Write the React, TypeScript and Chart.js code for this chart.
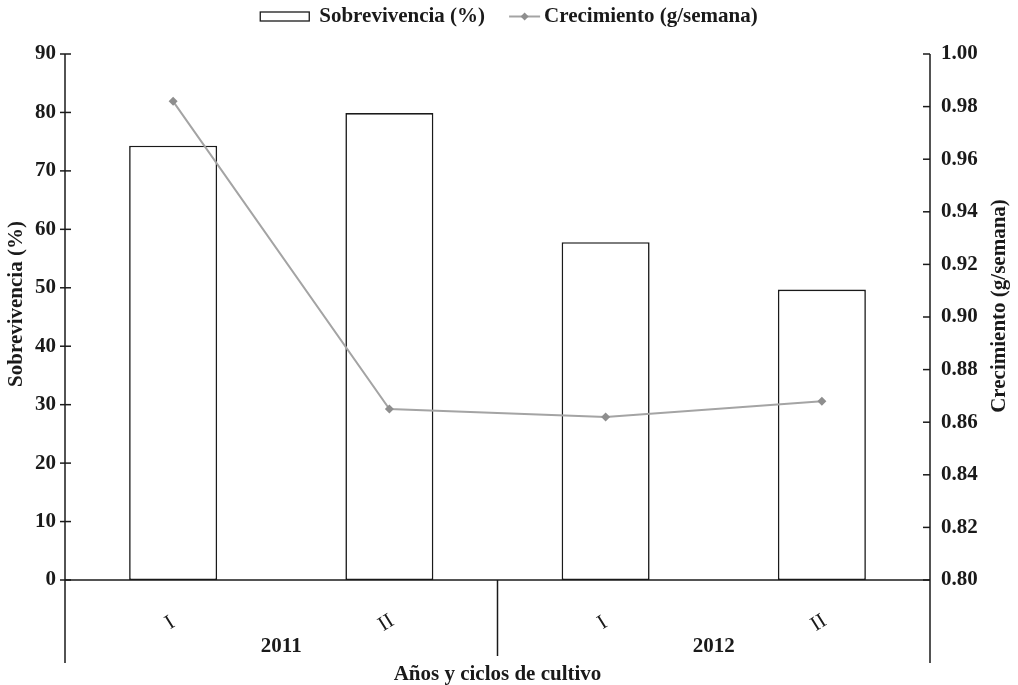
import React, { useEffect, useRef } from "react";
import { Chart, registerables } from "chart.js";

Chart.register(...registerables);

// ---- Data ----
const categories = ["I", "II", "I", "II"];
const years = ["2011", "2012"];
const yearGroups = [
  [0, 1],
  [2, 3],
];
const survival = [74.3, 79.9, 57.8, 49.7];
const growth = [0.982, 0.865, 0.862, 0.868];
const leftTicks = [0, 10, 20, 30, 40, 50, 60, 70, 80, 90];
const rightTicks = [0.8, 0.82, 0.84, 0.86, 0.88, 0.9, 0.92, 0.94, 0.96, 0.98, 1.0];
const seriesLabels = ["Sobrevivencia (%)", "Crecimiento (g/semana)"];
const leftTitle = "Sobrevivencia (%)";
const rightTitle = "Crecimiento (g/semana)";
const xTitle = "Años y ciclos de cultivo";

const FONT = "'Liberation Serif', 'Times New Roman', serif";
const FS = 21;
const INK = "#1a1a1a";
const LINE = "#a4a4a4";
const MARK = "#8e8e8e";

const decorPlugin = {
  id: "decor",
  afterDraw(chart: any) {
    const { ctx, chartArea, scales } = chart;
    const xs = scales.x;
    const yl = scales.y;
    const yr = scales.y1;
    const L = chartArea.left;
    const R = chartArea.right;
    const T = chartArea.top;
    const B = chartArea.bottom;
    const ext = B + 83;

    ctx.save();
    ctx.strokeStyle = INK;
    ctx.lineWidth = 1.5;
    const seg = (x1: number, y1: number, x2: number, y2: number) => {
      ctx.beginPath();
      ctx.moveTo(x1, y1);
      ctx.lineTo(x2, y2);
      ctx.stroke();
    };
    // axis lines
    seg(L, T, L, ext);
    seg(R, T, R, ext);
    seg(L, B, R, B);
    // left ticks
    leftTicks.forEach((v) => {
      const y = yl.getPixelForValue(v);
      seg(L - 5, y, L + 6, y);
    });
    // right ticks
    rightTicks.forEach((v) => {
      const y = yr.getPixelForValue(v);
      seg(R - 7, y, R, y);
    });
    // group separator(s)
    for (let g = 0; g < yearGroups.length - 1; g++) {
      const a = xs.getPixelForValue(yearGroups[g][1]);
      const b = xs.getPixelForValue(yearGroups[g + 1][0]);
      const sx = (a + b) / 2;
      seg(sx, B, sx, B + 76);
    }

    ctx.fillStyle = INK;
    // rotated category labels
    ctx.font = `${FS}px ${FONT}`;
    ctx.textAlign = "center";
    ctx.textBaseline = "middle";
    categories.forEach((c, i) => {
      const px = xs.getPixelForValue(i);
      ctx.save();
      ctx.translate(px - 3, B + 43);
      ctx.rotate((-32 * Math.PI) / 180);
      ctx.fillText(c, 0, 0);
      ctx.restore();
    });
    // years
    ctx.font = `bold ${FS}px ${FONT}`;
    years.forEach((yv, g) => {
      const a = xs.getPixelForValue(yearGroups[g][0]);
      const b = xs.getPixelForValue(yearGroups[g][1]);
      ctx.fillText(yv, (a + b) / 2, B + 67);
    });
    // x title
    ctx.fillText(xTitle, (L + R) / 2, B + 95);
    // left title
    ctx.save();
    ctx.translate(17, (T + B) / 2 - 13);
    ctx.rotate(-Math.PI / 2);
    ctx.fillText(leftTitle, 0, 0);
    ctx.restore();
    // right title
    ctx.save();
    ctx.translate(1000, (T + B) / 2 - 11);
    ctx.rotate(-Math.PI / 2);
    ctx.fillText(rightTitle, 0, 0);
    ctx.restore();

    // legend
    ctx.font = `bold ${FS}px ${FONT}`;
    const w1 = ctx.measureText(seriesLabels[0]).width;
    const w2 = ctx.measureText(seriesLabels[1]).width;
    const boxW = 49;
    const total = boxW + 10 + w1 + 24 + 31 + 4 + w2;
    let lx = chart.width / 2 - total / 2;
    const ly = 16.5;
    ctx.lineWidth = 1.3;
    ctx.strokeStyle = INK;
    ctx.fillStyle = "#ffffff";
    ctx.fillRect(lx, ly - 4.5, boxW, 9);
    ctx.strokeRect(lx, ly - 4.5, boxW, 9);
    lx += boxW + 10;
    ctx.fillStyle = INK;
    ctx.textAlign = "left";
    ctx.fillText(seriesLabels[0], lx, ly);
    lx += w1 + 24;
    ctx.strokeStyle = LINE;
    ctx.lineWidth = 2;
    seg(lx, ly, lx + 31, ly);
    ctx.fillStyle = MARK;
    ctx.beginPath();
    const cx = lx + 15.5;
    ctx.moveTo(cx, ly - 4);
    ctx.lineTo(cx + 4, ly);
    ctx.lineTo(cx, ly + 4);
    ctx.lineTo(cx - 4, ly);
    ctx.closePath();
    ctx.fill();
    lx += 31 + 4;
    ctx.fillStyle = INK;
    ctx.fillText(seriesLabels[1], lx, ly);
    ctx.restore();
  },
};

export default function App() {
  const ref = useRef<HTMLCanvasElement | null>(null);

  useEffect(() => {
    if (!ref.current) return;
    const chart = new Chart(ref.current, {
      type: "bar",
      data: {
        labels: categories,
        datasets: [
          {
            type: "line",
            label: seriesLabels[1],
            data: growth,
            yAxisID: "y1",
            borderColor: LINE,
            borderWidth: 2,
            pointStyle: "rectRot",
            pointRadius: 4.5,
            pointBackgroundColor: MARK,
            pointBorderColor: MARK,
            pointBorderWidth: 0,
            tension: 0,
            order: 0,
          } as any,
          {
            type: "bar",
            label: seriesLabels[0],
            data: survival,
            yAxisID: "y",
            backgroundColor: "#ffffff",
            borderColor: INK,
            borderWidth: 1.6,
            borderSkipped: false,
            categoryPercentage: 1,
            barPercentage: 0.407,
            order: 1,
          } as any,
        ],
      },
      options: {
        responsive: false,
        animation: false,
        layout: { padding: { top: 54, left: 0, right: 0, bottom: 0 } },
        plugins: {
          legend: { display: false },
          tooltip: { enabled: false },
          title: { display: false },
        },
        scales: {
          x: {
            type: "category",
            offset: true,
            grid: { display: false, drawTicks: false },
            border: { display: false },
            ticks: { display: false },
            afterFit: (s: any) => {
              s.height = 105;
            },
          },
          y: {
            position: "left",
            min: 0,
            max: 90,
            grid: { display: false, drawTicks: false },
            border: { display: false },
            afterBuildTicks: (s: any) => {
              s.ticks = leftTicks.map((v) => ({ value: v }));
            },
            ticks: {
              padding: 9,
              color: INK,
              font: { family: FONT, size: FS, weight: "bold" },
              callback: (v: any) => String(v),
            },
            afterFit: (s: any) => {
              s.width = 65;
            },
          },
          y1: {
            position: "right",
            min: 0.8,
            max: 1.0,
            grid: { display: false, drawTicks: false },
            border: { display: false },
            afterBuildTicks: (s: any) => {
              s.ticks = rightTicks.map((v) => ({ value: v }));
            },
            ticks: {
              padding: 11,
              color: INK,
              font: { family: FONT, size: FS, weight: "bold" },
              callback: (v: any) => Number(v).toFixed(2),
            },
            afterFit: (s: any) => {
              s.width = 88;
            },
          },
        },
      } as any,
      plugins: [decorPlugin],
    });
    return () => chart.destroy();
  }, []);

  return (
    <div style={{ position: "absolute", left: 0, top: 0, width: 1018, height: 685, background: "#fff" }}>
      <canvas ref={ref} width={1018} height={685} style={{ display: "block" }} />
    </div>
  );
}
